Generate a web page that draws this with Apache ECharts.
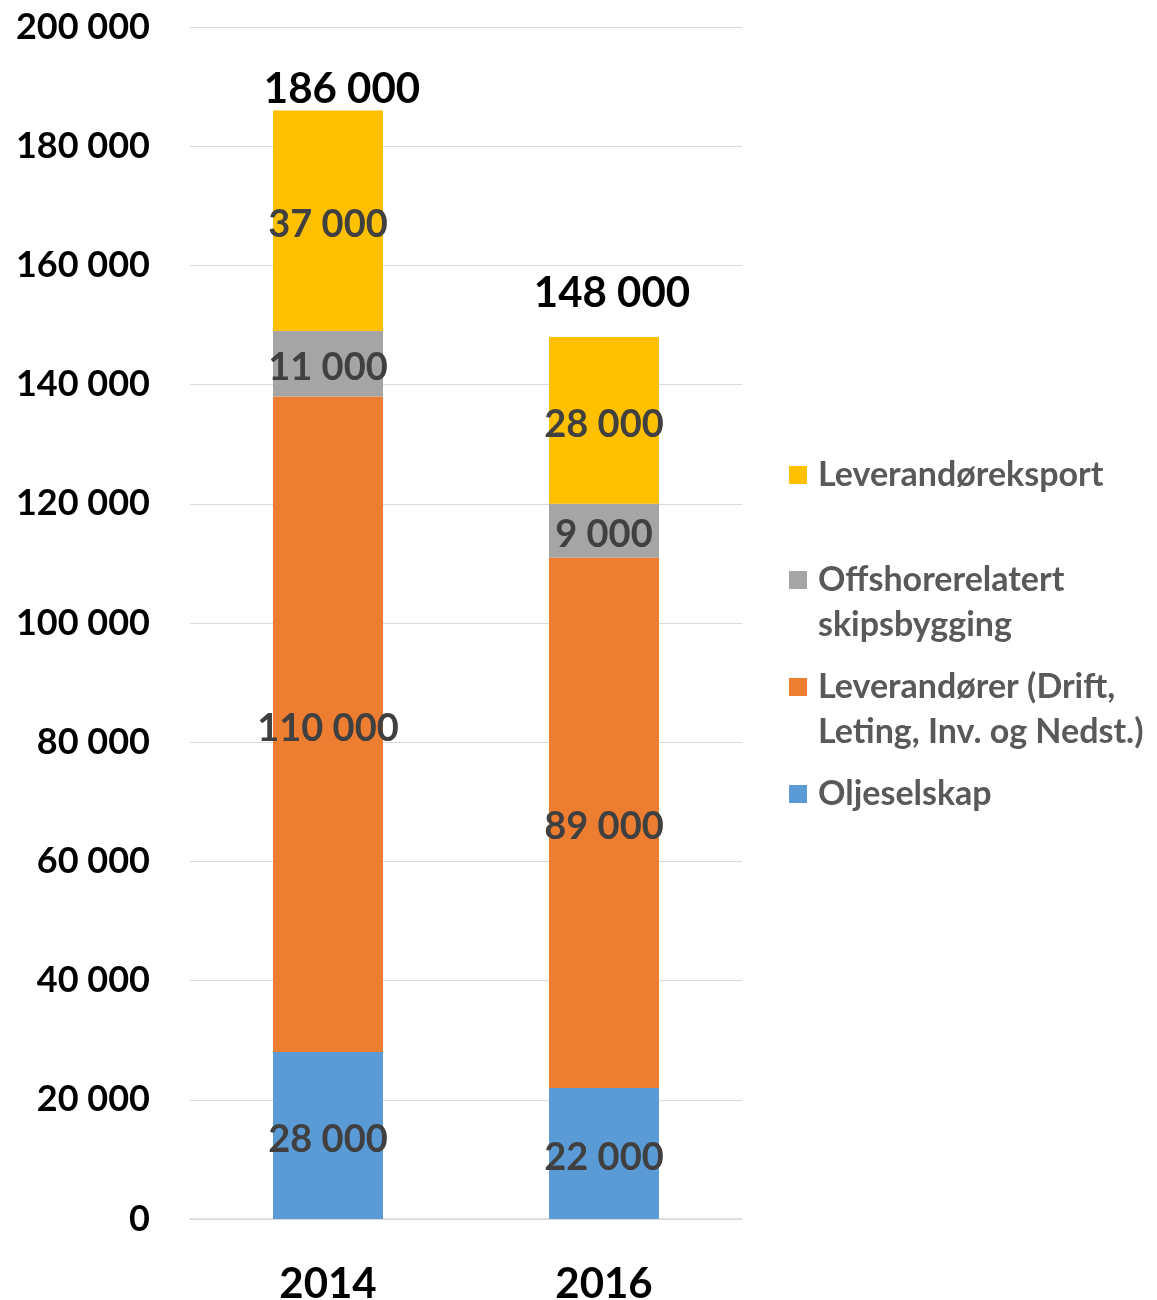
<!DOCTYPE html>
<html>
<head>
<meta charset="utf-8">
<script src="https://cdn.jsdelivr.net/npm/echarts@6/dist/echarts.min.js"></script>
<style>
  html, body { margin: 0; padding: 0; background: #fff; }
  #chart { width: 1157px; height: 1300px; }
</style>
</head>
<body>
<div id="chart"></div>
<script>
// Employment by segment, 2014 vs 2016
const years = ['2014', '2016'];
const oljeselskap = [28000, 22000];
const leverandorer = [110000, 89000];
const skipsbygging = [11000, 9000];
const eksport = [37000, 28000];
const yTicks = { min: 0, max: 200000, interval: 20000 };

const names = {
  olje: 'Oljeselskap',
  lev: 'Leverandører (Drift, Leting, Inv. og Nedst.)',
  skip: 'Offshorerelatert skipsbygging',
  eks: 'Leverandøreksport'
};

const totals = years.map((_, i) => oljeselskap[i] + leverandorer[i] + skipsbygging[i] + eksport[i]);

const FONT = 'Lato';
const fmt = v => String(v).replace(/\B(?=(\d{3})+(?!\d))/g, ' ');

const segLabel = {
  show: true,
  position: 'inside',
  offset: [0, 4],
  color: '#404040',
  fontFamily: FONT,
  fontWeight: 'bold',
  fontSize: 38,
  formatter: p => fmt(p.value)
};

function seg(name, data, color) {
  return {
    name, type: 'bar', stack: 'all', data, barWidth: 110,
    itemStyle: { color },
    label: segLabel,
    emphasis: { disabled: true }
  };
}

const legendText = {
  color: '#595959', fontFamily: FONT, fontWeight: 'bold', fontSize: 34,
  lineHeight: 36, padding: [0, 0, 0, 6]
};

function legendItem(name, centerY, firstLine) {
  return {
    left: 789, top: centerY - 18, orient: 'vertical', padding: 0,
    data: [name], itemWidth: 18, itemHeight: 18, icon: 'rect',
    selectedMode: false,
    textStyle: legendText,
    formatter: () => firstLine
  };
}

// hand-placed offsets of the total labels above each column
const totalOffsets = [[14, 2], [8, -20]];

const chart = echarts.init(document.getElementById('chart'));
chart.setOption({
  animation: false,
  backgroundColor: '#fff',
  grid: { left: 190, right: 415, top: 27, bottom: 81, outerBoundsMode: 'none', containLabel: false },
  xAxis: {
    type: 'category', data: years,
    axisLine: { lineStyle: { color: '#d9d9d9', width: 1.5 } },
    axisTick: { show: false },
    axisLabel: { color: '#000', fontFamily: FONT, fontWeight: 'bold', fontSize: 42, margin: 44 }
  },
  yAxis: {
    type: 'value', min: yTicks.min, max: yTicks.max, interval: yTicks.interval,
    axisLine: { show: false }, axisTick: { show: false },
    splitLine: { lineStyle: { color: '#d9d9d9', width: 1.2 } },
    axisLabel: { color: '#000', fontFamily: FONT, fontWeight: 'bold', fontSize: 36, margin: 40, formatter: fmt }
  },
  legend: [
    legendItem(names.eks, 475, 'Leverandøreksport'),
    legendItem(names.skip, 580, 'Offshorerelatert'),
    legendItem(names.lev, 687, 'Leverandører (Drift,'),
    legendItem(names.olje, 794, 'Oljeselskap')
  ],
  graphic: [
    { type: 'text', left: 818, top: 625 - 18,
      style: { text: 'skipsbygging', fill: '#595959', font: 'bold 34px ' + FONT, lineHeight: 36 } },
    { type: 'text', left: 818, top: 732 - 18,
      style: { text: 'Leting, Inv. og Nedst.)', fill: '#595959', font: 'bold 34px ' + FONT, lineHeight: 36 } }
  ],
  series: [
    seg(names.olje, oljeselskap, '#5B9BD5'),
    seg(names.lev, leverandorer, '#ED7D31'),
    seg(names.skip, skipsbygging, '#A5A5A5'),
    seg(names.eks, eksport, '#FFC000'),
    {
      name: 'Sum', type: 'bar', stack: 'all', barWidth: 110,
      data: years.map((_, i) => ({ value: 0, label: { offset: totalOffsets[i] } })),
      itemStyle: { color: 'transparent' },
      label: {
        show: true, position: 'top', distance: 2,
        color: '#000', fontFamily: FONT, fontWeight: 'bold', fontSize: 42,
        formatter: p => fmt(totals[p.dataIndex])
      },
      emphasis: { disabled: true }
    }
  ]
});
</script>
</body>
</html>
